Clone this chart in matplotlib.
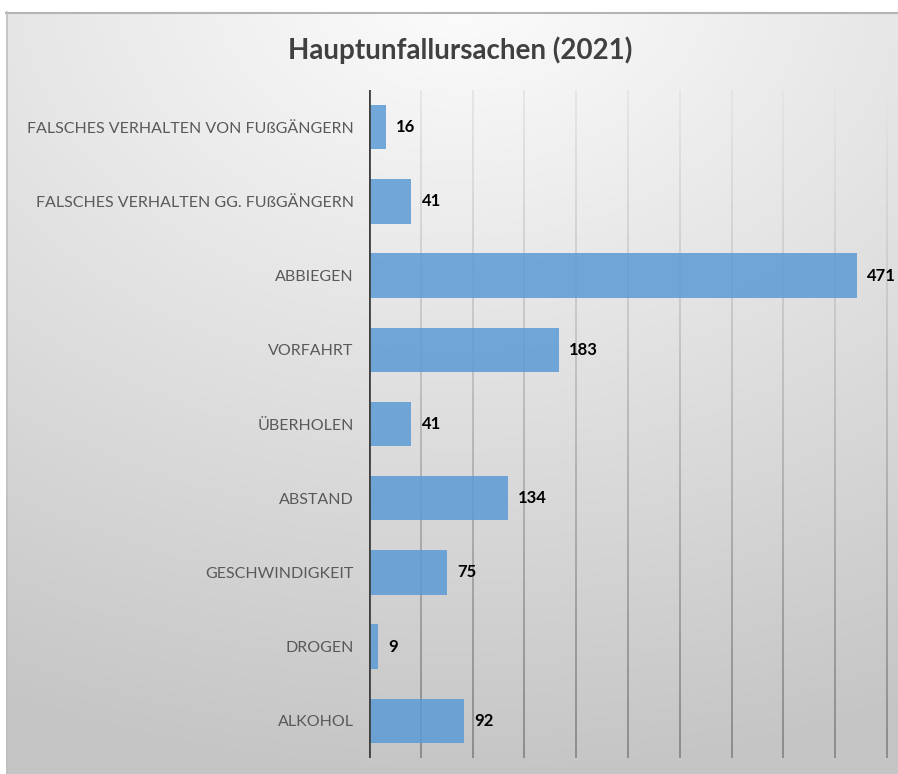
import numpy as np
import matplotlib
matplotlib.use('Agg')
import matplotlib.pyplot as plt
from matplotlib.collections import LineCollection

plt.rcParams['font.family'] = ['Lato', 'DejaVu Sans']

categories = ['ALKOHOL', 'DROGEN', 'GESCHWINDIGKEIT', 'ABSTAND', 'ÜBERHOLEN',
              'VORFAHRT', 'ABBIEGEN', 'FALSCHES VERHALTEN GG. FUßGÄNGERN',
              'FALSCHES VERHALTEN VON FUßGÄNGERN']
values = [92, 9, 75, 134, 41, 183, 471, 41, 16]
grid_ticks = list(range(50, 501, 50))
title = 'Hauptunfallursachen (2021)'

W, H = 898, 774
fig = plt.figure(figsize=(W / 100, H / 100), dpi=100)

# background panel with radial-ish gradient
bg = fig.add_axes([0, 0, 1, 1], zorder=0)
bg.set_xlim(0, W)
bg.set_ylim(H, 0)
bg.axis('off')
xx, yy = np.meshgrid(np.arange(W), np.arange(H))
d = np.sqrt(((xx - 460) / 1.35) ** 2 + (yy + 20) ** 2) / 800.0
d = np.clip(d, 0, 1)
v = 253 - d * 56
img = np.ones((H, W, 3))
img[:, :, :] = (v / 255.0)[:, :, None]
img[:12, :, :] = 1.0
img[:, :6, :] = 1.0
bg.imshow(img, extent=(0, W, H, 0), aspect='auto', interpolation='bilinear')
bg.plot([6, W], [12.5, 12.5], color='#b4b4b4', lw=1.5)
bg.plot([6.5, 6.5], [12, H], color='#c0c0c0', lw=1.2)

ax = fig.add_axes([369 / W, 16 / H, (887 - 369) / W, (758 - 90) / H], zorder=1)
ax.patch.set_alpha(0)
ax.set_xlim(0, 500)
ax.set_ylim(-0.5, len(categories) - 0.5)

# gridlines shading from light at top to darker at bottom
ys = np.linspace(-0.5, len(categories) - 0.5, 60)
for gx in grid_ticks:
    segs = [[(gx, ys[i]), (gx, ys[i + 1])] for i in range(len(ys) - 1)]
    t = (ys[:-1] + 0.5) / len(categories)
    cols = [(c, c, c) for c in (135 + t * 95) / 255.0]
    ax.add_collection(LineCollection(segs, colors=cols, linewidths=1.3,
                                     zorder=1, clip_on=False))

ax.barh(range(len(categories)), values, height=0.6, color='#5b9bd5',
        alpha=0.85, zorder=2)
for i, val in enumerate(values):
    ax.text(val + 10, i, str(val), va='center', ha='left', fontsize=12,
            fontweight='bold', color='black', clip_on=False, zorder=3)

ax.axvline(0, color='#404040', lw=2, zorder=3)
ax.set_yticks(range(len(categories)))
ax.set_yticklabels(categories, fontsize=11.5, color='#595959')
ax.tick_params(axis='y', length=0, pad=11)
ax.set_xticks([])
for s in ax.spines.values():
    s.set_visible(False)

fig.text(460 / W, 1 - 50 / H, title, ha='center', va='center', fontsize=20,
         fontweight='bold', color='#404040')

fig.savefig('out.png', dpi=100)
